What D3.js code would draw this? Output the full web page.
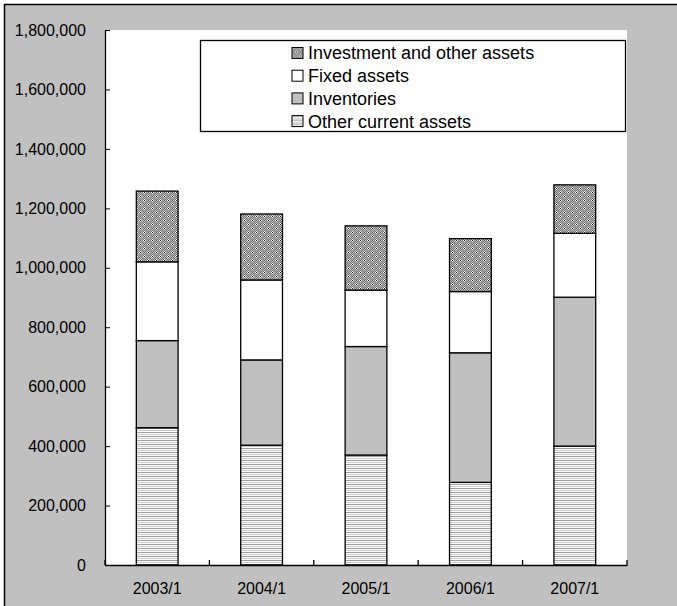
<!DOCTYPE html>
<html>
<head>
<meta charset="utf-8">
<script src="https://cdn.jsdelivr.net/npm/d3@7"></script>
<style>
  html, body { margin: 0; padding: 0; background: #ffffff; }
  svg { display: block; }
  text { font-family: "Liberation Sans", Arial, sans-serif; fill: #000; }
</style>
</head>
<body>
<svg id="chart" width="677" height="606"></svg>
<script>
// ---- data ----
const categories = ["2003/1", "2004/1", "2005/1", "2006/1", "2007/1"];
const seriesNames = ["Other current assets", "Inventories", "Fixed assets", "Investment and other assets"];
const otherCurrent = [462000, 403000, 370000, 278000, 400000];
const inventories  = [293000, 287000, 365000, 436000, 501000];
const fixedAssets  = [265000, 269000, 190000, 206000, 215000];
const investment   = [238000, 222000, 216000, 178000, 163000];
const yTicks = [0, 200000, 400000, 600000, 800000, 1000000, 1200000, 1400000, 1600000, 1800000];

const seriesValues = [otherCurrent, inventories, fixedAssets, investment];
const table = categories.map((c, i) => {
  const row = { cat: c };
  seriesNames.forEach((s, j) => row[s] = seriesValues[j][i]);
  return row;
});

// ---- layout ----
const plot = { left: 105, right: 627, top: 30, bottom: 565 };

const svg = d3.select("#chart");
const defs = svg.append("defs");

// pattern: horizontal stripes
const pStripe = defs.append("pattern").attr("id", "pStripe")
  .attr("patternUnits", "userSpaceOnUse").attr("width", 8).attr("height", 4);
pStripe.append("rect").attr("width", 8).attr("height", 4).attr("fill", "#ffffff");
pStripe.append("rect").attr("y", 0).attr("width", 8).attr("height", 1).attr("fill", "#a0a0a0");
pStripe.append("rect").attr("y", 2).attr("width", 8).attr("height", 1).attr("fill", "#cccccc");

// pattern: dotted checker
const pCheck = defs.append("pattern").attr("id", "pCheck")
  .attr("patternUnits", "userSpaceOnUse").attr("width", 8).attr("height", 8);
pCheck.append("rect").attr("width", 8).attr("height", 8).attr("fill", "#b4b4b4");
for (let yy = 0; yy < 8; yy++) for (let xx = 0; xx < 8; xx++) {
  if ((xx + yy) % 2 === 0) pCheck.append("rect").attr("x", xx).attr("y", yy).attr("width", 1).attr("height", 1).attr("fill", "#7a7a7a");
}
[[4,4],[0,0]].forEach(([cx, cy]) => {
  [[-1,0],[1,0],[0,-1],[0,1]].forEach(([dx, dy]) => {
    pCheck.append("rect").attr("x", (cx + dx + 8) % 8).attr("y", (cy + dy + 8) % 8)
      .attr("width", 1).attr("height", 1).attr("fill", "#ffffff");
  });
  pCheck.append("rect").attr("x", cx).attr("y", cy).attr("width", 1).attr("height", 1).attr("fill", "#000000");
});

const fills = {
  "Other current assets": "url(#pStripe)",
  "Inventories": "#c0c0c0",
  "Fixed assets": "#ffffff",
  "Investment and other assets": "url(#pCheck)"
};

// outer frame
svg.append("rect").attr("x", 4.5).attr("y", 4.5).attr("width", 720).attr("height", 720)
  .attr("fill", "#c0c0c0").attr("stroke", "#000").attr("stroke-width", 1.5);

// plot area
svg.append("rect").attr("x", plot.left).attr("y", plot.top)
  .attr("width", plot.right - plot.left).attr("height", plot.bottom - plot.top)
  .attr("fill", "#ffffff");

// scales
const x = d3.scaleBand().domain(categories).range([plot.left, plot.right]).padding(0);
const y = d3.scaleLinear().domain([0, 1800000]).range([plot.bottom, plot.top]);
const barW = x.bandwidth() * 0.4;

// stacked bars
const stack = d3.stack().keys(seriesNames)(table);
const layers = svg.append("g").selectAll("g").data(stack).join("g")
  .attr("fill", d => fills[d.key]);
layers.selectAll("rect").data(d => d).join("rect")
  .attr("x", d => x(d.data.cat) + (x.bandwidth() - barW) / 2)
  .attr("y", d => y(d[1]))
  .attr("width", barW)
  .attr("height", d => y(d[0]) - y(d[1]))
  .attr("stroke", "#000").attr("stroke-width", 1.3);

// y axis
const yAxis = svg.append("g").attr("transform", `translate(${plot.left},0)`)
  .call(d3.axisLeft(y).tickValues(yTicks).tickFormat(d3.format(",")).tickSizeInner(-5).tickSizeOuter(0).tickPadding(19));
yAxis.select(".domain").attr("stroke", "#000").attr("stroke-width", 1.3);
yAxis.selectAll(".tick line").attr("stroke", "#000");
yAxis.selectAll("text").attr("font-size", 16).attr("font-family", "Liberation Sans, Arial, sans-serif");

// x axis
const xAxis = svg.append("g").attr("transform", `translate(0,${plot.bottom})`)
  .call(d3.axisBottom(x).tickSize(0).tickPadding(17.5));
xAxis.select(".domain").attr("stroke", "#000").attr("stroke-width", 1.3);
xAxis.selectAll("text").attr("font-size", 16).attr("font-family", "Liberation Sans, Arial, sans-serif");
const bounds = categories.map(c => x(c)).concat([x.range()[1]]);
xAxis.selectAll(".bound").data(bounds).join("line").attr("class", "bound")
  .attr("x1", d => d).attr("x2", d => d).attr("y1", 0).attr("y2", -5)
  .attr("stroke", "#000").attr("stroke-width", 1.3);

// legend
const legend = svg.append("g");
legend.append("rect").attr("x", 200.5).attr("y", 40.5).attr("width", 425).attr("height", 91)
  .attr("fill", "#ffffff").attr("stroke", "#000").attr("stroke-width", 1.3);
const legendOrder = seriesNames.slice().reverse();
const items = legend.selectAll("g.item").data(legendOrder).join("g").attr("class", "item")
  .attr("transform", (d, i) => `translate(292,${47.5 + i * 22.7})`);
items.append("rect").attr("width", 11).attr("height", 11)
  .attr("fill", d => fills[d]).attr("stroke", "#000").attr("stroke-width", 1);
items.append("text").attr("x", 16).attr("y", 5.5).attr("dy", "0.36em")
  .attr("font-size", 18).text(d => d);
</script>
</body>
</html>
